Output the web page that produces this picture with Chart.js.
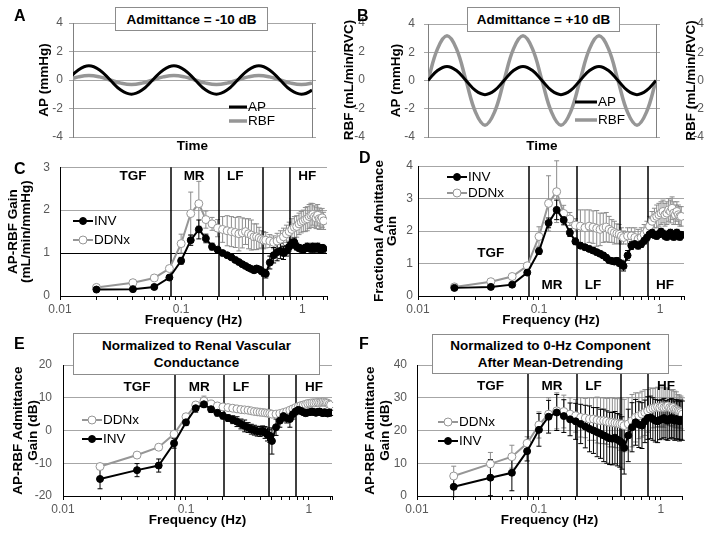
<!DOCTYPE html>
<html>
<head>
<meta charset="utf-8">
<script src="https://cdn.jsdelivr.net/npm/chart.js@4.4.1/dist/chart.umd.min.js"></script>
<style>
body { margin: 0; background: #fff; width: 704px; height: 535px; position: relative; overflow: hidden; font-family: 'Liberation Sans', Arial, sans-serif; }
canvas { position: absolute; }
.lt { position: absolute; font-weight: bold; font-size: 16px; line-height: 1; z-index: 5; }
.tb { position: absolute; box-sizing: border-box; border: 1px solid #8c8c8c; background: #fff; font-weight: bold; font-size: 13.5px; line-height: 17px; text-align: center; z-index: 5; display: flex; align-items: center; justify-content: center; }
</style>
</head>
<body>
<canvas id="chartA"></canvas>
<canvas id="chartB"></canvas>
<canvas id="chartC"></canvas>
<canvas id="chartD"></canvas>
<canvas id="chartE"></canvas>
<canvas id="chartF"></canvas>

<div class="lt" style="left:14px;top:8px">A</div>
<div class="lt" style="left:357px;top:8px">B</div>
<div class="lt" style="left:14px;top:161px">C</div>
<div class="lt" style="left:359px;top:150px">D</div>
<div class="lt" style="left:14px;top:336px">E</div>
<div class="lt" style="left:359px;top:336px">F</div>

<div class="tb" style="left:115px;top:7px;width:153px;height:24px">Admittance = -10 dB</div>
<div class="tb" style="left:467px;top:7px;width:153px;height:25px">Admittance = +10 dB</div>
<div class="tb" style="left:73px;top:333px;width:247px;height:42px">Normalized to Renal Vascular<br>Conductance</div>
<div class="tb" style="left:432px;top:334px;width:237px;height:40px">Normalized to 0-Hz Component<br>After Mean-Detrending</div>

<script>
// panels A/B: one sample every 1/8 of a cycle
const time = [0,1,2,3,4,5,6,7,8,9,10,11,12,13,14,15,16,17,18,19,20,21,22,23,24];
const apWave = [0,0.71,1,0.71,0,-0.71,-1,-0.71, 0,0.71,1,0.71,0,-0.71,-1,-0.71, 0,0.71,1,0.71,0,-0.71,-1,-0.71, 0];
const rbfWaveA = [0,0.22,0.32,0.22,0,-0.22,-0.32,-0.22, 0,0.22,0.32,0.22,0,-0.22,-0.32,-0.22, 0,0.22,0.32,0.22,0,-0.22,-0.32,-0.22, 0];
const rbfWaveB = [0,2.24,3.16,2.24,0,-2.24,-3.16,-2.24, 0,2.24,3.16,2.24,0,-2.24,-3.16,-2.24, 0,2.24,3.16,2.24,0,-2.24,-3.16,-2.24, 0];

// panels C-F
const freq = [0.02,0.04,0.06,0.08,0.10,0.12,0.14,0.16,0.18,0.20,
  0.22,0.24,0.26,0.28,0.30,0.32,0.34,0.36,0.38,0.40,
  0.42,0.44,0.46,0.48,0.50,0.54,0.58,0.62,0.66,0.70,
  0.74,0.78,0.82,0.86,0.90,0.94,0.98,1.02,1.06,1.10,
  1.14,1.18,1.22,1.26,1.30,1.34,1.38,1.42,1.46,1.50];

const bandEdges = [0.082, 0.205, 0.47, 0.79];
const bandNames = ['TGF', 'MR', 'LF', 'HF'];
const bandCenters = [0.04, 0.128, 0.28, 1.1];

const gainInv = [0.15,0.16,0.21,0.43,0.82,1.30,1.55,1.34,1.15,1.08,
  1.00,0.95,0.90,0.84,0.79,0.74,0.70,0.66,0.63,0.60,
  0.64,0.62,0.58,0.54,0.52,0.78,0.95,1.02,1.05,1.00,
  1.05,1.15,1.22,1.25,1.15,1.12,1.10,1.08,1.12,1.15,
  1.12,1.10,1.15,1.10,1.13,1.15,1.10,1.08,1.12,1.10];
const gainInvErr = [0.03,0.03,0.03,0.05,0.08,0.12,0.22,0.10,0.08,0.06,
  0.05,0.05,0.05,0.05,0.05,0.05,0.05,0.05,0.05,0.06,
  0.06,0.06,0.07,0.08,0.10,0.15,0.18,0.20,0.18,0.15,
  0.12,0.10,0.10,0.10,0.08,0.08,0.08,0.08,0.08,0.08,
  0.08,0.08,0.08,0.08,0.08,0.08,0.08,0.08,0.08,0.08];
const gainDdnx = [0.20,0.31,0.42,0.64,1.22,1.92,2.15,1.78,1.68,1.58,
  1.55,1.52,1.50,1.48,1.45,1.47,1.50,1.45,1.42,1.38,
  1.38,1.35,1.32,1.30,1.30,1.28,1.25,1.28,1.32,1.38,
  1.45,1.50,1.55,1.60,1.62,1.68,1.72,1.75,1.78,1.80,
  1.85,1.88,1.90,1.85,1.82,1.88,1.80,1.78,1.82,1.75];
const gainDdnxErr = [0.04,0.04,0.05,0.06,0.22,0.50,0.52,0.20,0.15,0.20,
  0.30,0.35,0.35,0.35,0.40,0.35,0.30,0.35,0.35,0.30,
  0.30,0.25,0.20,0.20,0.18,0.15,0.15,0.18,0.20,0.20,
  0.20,0.22,0.25,0.25,0.25,0.25,0.25,0.25,0.28,0.28,
  0.28,0.28,0.25,0.25,0.25,0.25,0.25,0.22,0.22,0.20];

const fracInv = [0.25,0.28,0.35,0.72,1.38,2.25,2.65,2.34,1.95,1.68,
  1.55,1.50,1.45,1.40,1.35,1.30,1.25,1.18,1.10,1.08,
  1.06,1.08,1.02,0.98,0.92,1.25,1.55,1.60,1.55,1.60,
  1.70,1.80,1.90,1.95,1.88,1.85,1.90,1.98,1.92,1.85,
  1.82,1.90,1.95,1.85,1.82,1.90,1.95,1.85,1.82,1.88];
const fracInvErr = [0.03,0.03,0.04,0.08,0.10,0.15,0.30,0.15,0.12,0.10,
  0.08,0.08,0.08,0.08,0.08,0.08,0.08,0.08,0.08,0.08,
  0.08,0.10,0.10,0.12,0.15,0.15,0.12,0.10,0.10,0.10,
  0.10,0.10,0.10,0.10,0.10,0.10,0.10,0.10,0.10,0.10,
  0.10,0.10,0.10,0.10,0.10,0.10,0.10,0.10,0.10,0.10];
const fracDdnx = [0.28,0.44,0.60,0.93,1.83,2.85,3.21,2.54,2.37,2.18,
  2.15,2.10,2.15,2.12,2.08,2.05,2.10,2.12,2.05,2.00,
  1.95,1.92,1.90,1.85,1.80,1.85,1.85,1.80,1.75,1.80,
  1.90,2.00,2.15,2.30,2.40,2.45,2.50,2.55,2.60,2.50,
  2.55,2.65,2.60,2.70,2.55,2.50,2.60,2.50,2.45,2.45];
const fracDdnxErr = [0.03,0.04,0.05,0.08,0.30,0.85,0.95,0.25,0.20,0.20,
  0.50,0.55,0.50,0.50,0.55,0.50,0.45,0.45,0.40,0.35,
  0.35,0.30,0.30,0.25,0.20,0.25,0.25,0.30,0.30,0.30,
  0.30,0.30,0.30,0.30,0.30,0.35,0.35,0.35,0.35,0.35,
  0.35,0.35,0.35,0.35,0.35,0.30,0.30,0.30,0.30,0.30];

const rvcInv = [-14.8,-12.1,-10.7,-3.9,2.5,6.8,8.0,6.5,5.4,4.5,
  3.8,3.3,2.7,2.0,1.4,0.9,0.4,0.1,-0.2,-0.3,
  -0.1,-0.6,-1.2,-1.6,-3.2,1.0,3.0,4.4,3.8,3.5,
  5.0,5.8,6.3,6.0,5.6,5.3,5.5,5.6,5.8,5.6,
  5.4,5.7,5.8,5.5,5.3,5.6,5.4,5.2,5.5,5.4];
const rvcInvErr = [3.0,2.0,2.0,1.5,1.0,1.2,1.0,1.0,1.0,1.0,
  1.0,1.2,1.5,1.5,1.8,1.5,1.5,1.5,1.5,1.5,
  1.5,1.8,2.0,2.0,4.0,2.5,2.0,1.5,1.5,2.5,
  1.5,1.0,1.0,1.0,0.8,0.8,0.8,0.8,0.8,0.8,
  0.8,0.8,0.8,0.8,0.8,0.8,0.8,0.8,0.8,0.8];
const rvcDdnx = [-11.0,-7.5,-5.1,-1.1,4.2,7.8,9.0,8.1,7.5,7.2,
  7.0,6.8,6.6,6.4,6.3,6.2,6.0,5.8,5.7,5.6,
  5.5,5.4,5.3,5.2,5.0,5.0,5.2,5.5,5.8,6.2,
  6.6,7.0,7.3,7.6,7.8,8.0,8.2,8.3,8.4,8.4,
  8.5,8.6,8.5,8.6,8.7,8.6,8.5,8.3,8.0,7.8];
const rvcDdnxErr = [0.8,0.8,0.8,0.8,0.9,1.0,1.5,1.0,0.9,0.9,
  0.9,0.9,0.9,0.9,0.9,0.8,0.8,0.8,0.8,0.8,
  0.8,0.8,0.8,0.8,0.8,0.8,0.8,0.8,0.8,0.8,
  0.8,0.8,0.8,0.8,0.8,0.8,0.8,0.8,0.8,0.8,
  0.8,0.8,0.8,0.8,0.8,0.8,0.8,0.8,0.8,0.8];

const zeroInv = [2.8,5.6,7.1,13.7,20.2,24.2,25.5,24.4,23.4,22.8,
  22.0,21.2,20.5,20.0,19.5,19.0,18.5,18.0,17.6,17.5,
  17.8,17.2,16.8,16.2,14.7,18.5,21.0,22.5,21.8,21.5,
  22.8,23.8,24.0,23.5,23.0,22.8,23.2,23.5,23.8,23.2,
  23.0,23.5,23.8,23.4,23.0,23.5,23.2,22.8,23.3,23.0];
const zeroInvErr = [3.0,5.5,5.5,3.0,5.0,5.0,5.5,5.0,5.0,5.5,
  6.0,6.5,7.0,7.0,7.5,7.5,8.0,8.0,8.0,8.0,
  8.0,8.0,8.0,8.0,8.0,8.0,7.5,7.0,7.0,7.0,
  6.5,6.5,6.5,6.5,6.5,6.5,6.0,6.0,6.0,6.0,
  6.0,6.0,6.0,6.0,6.0,6.0,6.0,6.0,6.0,6.0];
const zeroDdnx = [6.1,9.8,12.0,16.1,21.7,25.0,26.0,25.8,25.0,24.5,
  24.0,23.8,23.5,23.5,23.2,23.0,23.0,22.8,22.5,22.5,
  22.3,22.2,22.0,22.0,21.5,22.0,23.0,24.0,24.5,25.0,
  25.5,26.0,26.5,26.8,27.0,27.2,27.0,27.3,27.0,27.2,
  27.5,27.0,26.8,27.0,26.5,26.3,26.0,25.8,25.5,25.0];
const zeroDdnxErr = [3.0,3.5,3.5,2.0,4.0,5.0,5.5,5.0,5.0,5.0,
  6.0,6.0,6.5,6.5,7.0,7.0,7.0,7.0,7.5,7.5,
  7.5,7.5,8.0,8.0,8.0,8.0,8.0,7.5,7.0,7.0,
  7.0,6.5,6.5,6.0,6.0,6.0,6.0,6.0,6.0,5.5,
  5.5,5.5,5.5,5.5,5.5,5.5,5.0,5.0,5.0,5.0];

const FONT = "'Liberation Sans', Arial, sans-serif";
const GRID = '#a6a6a6';
const TICK = '#595959';
const GRAY = '#969696';

Chart.defaults.font.family = FONT;
Chart.defaults.animation = false;
Chart.defaults.responsive = false;

// vertical error bars, drawn under the markers
const errorBars = {
  id: 'errorBars',
  beforeDatasetsDraw(chart) {
    const ctx = chart.ctx;
    const x = chart.scales.x, y = chart.scales.y;
    const sets = chart.data.datasets;
    for (let i = sets.length - 1; i >= 0; i--) {
      const ds = sets[i];
      if (!ds.errors) continue;
      ctx.save();
      ctx.strokeStyle = ds.errorColor;
      ctx.lineWidth = 1;
      ds.data.forEach((p, j) => {
        const e = ds.errors[j];
        const px = x.getPixelForValue(p.x);
        const t = y.getPixelForValue(p.y + e);
        const b = y.getPixelForValue(p.y - e);
        ctx.beginPath();
        ctx.moveTo(px, t); ctx.lineTo(px, b);
        ctx.moveTo(px - 2.5, t); ctx.lineTo(px + 2.5, t);
        ctx.moveTo(px - 2.5, b); ctx.lineTo(px + 2.5, b);
        ctx.stroke();
      });
      ctx.restore();
    }
  }
};

// band separators and TGF/MR/LF/HF labels
const bands = {
  id: 'bands',
  beforeDatasetsDraw(chart, args, opts) {
    if (!opts.labelY) return;
    const ctx = chart.ctx, area = chart.chartArea;
    const x = chart.scales.x, y = chart.scales.y;
    ctx.save();
    ctx.strokeStyle = '#000';
    ctx.lineWidth = 1.5;
    bandEdges.forEach(f => {
      const px = Math.round(x.getPixelForValue(f));
      ctx.beginPath();
      ctx.moveTo(px, area.top);
      ctx.lineTo(px, area.bottom);
      ctx.stroke();
    });
    ctx.fillStyle = '#000';
    ctx.font = 'bold 13.5px ' + FONT;
    ctx.textAlign = 'center';
    ctx.textBaseline = 'middle';
    bandNames.forEach((n, i) => {
      ctx.fillText(n, x.getPixelForValue(bandCenters[i]), y.getPixelForValue(opts.labelY[i]));
    });
    ctx.restore();
  }
};

// small legend placed inside the plot
const sampleLegend = {
  id: 'sampleLegend',
  afterDraw(chart, args, opts) {
    if (!opts.items) return;
    const ctx = chart.ctx;
    const ox = opts.origin[0], oy = opts.origin[1];
    opts.items.forEach(it => {
      const ds = chart.data.datasets[it.ds];
      const x0 = it.x0 - ox, x1 = it.x1 - ox, y = it.y - oy;
      ctx.save();
      ctx.strokeStyle = ds.borderColor;
      ctx.lineWidth = ds.borderWidth;
      ctx.beginPath();
      ctx.moveTo(x0, y);
      ctx.lineTo(x1, y);
      ctx.stroke();
      if (ds.pointRadius > 0) {
        ctx.beginPath();
        ctx.arc((x0 + x1) / 2, y, ds.pointRadius, 0, Math.PI * 2);
        ctx.fillStyle = ds.pointBackgroundColor;
        ctx.fill();
        ctx.lineWidth = 1;
        ctx.strokeStyle = ds.pointBorderColor;
        ctx.stroke();
      }
      ctx.fillStyle = '#000';
      ctx.font = '13.5px ' + FONT;
      ctx.textBaseline = 'middle';
      ctx.fillText(ds.label, x1 + 1, y);
      ctx.restore();
    });
  }
};

// right-hand axis title reading bottom-to-top, as in the figure
const rightTitle = {
  id: 'rightTitle',
  afterDraw(chart, args, opts) {
    if (!opts.text) return;
    const ctx = chart.ctx, area = chart.chartArea;
    ctx.save();
    ctx.translate(chart.width - opts.offset, (area.top + area.bottom) / 2);
    ctx.rotate(-Math.PI / 2);
    ctx.fillStyle = '#000';
    ctx.font = 'bold 13.5px ' + FONT;
    ctx.textAlign = 'center';
    ctx.textBaseline = 'middle';
    ctx.fillText(opts.text, 0, 0);
    ctx.restore();
  }
};

function setupCanvas(id, box) {
  const c = document.getElementById(id);
  c.style.left = box[0] + 'px';
  c.style.top = box[1] + 'px';
  c.width = box[2] - box[0];
  c.height = box[3] - box[1];
  return c.getContext('2d');
}

const isDecade = v => Math.abs(Math.log10(v) - Math.round(Math.log10(v))) < 1e-6;

function wavePanel(id, box, area, cfg) {
  const ctx = setupCanvas(id, box);
  return new Chart(ctx, {
    type: 'line',
    data: {
      datasets: [
        { label: 'AP', data: time.map((t, i) => ({ x: t, y: apWave[i] })), yAxisID: 'y',
          borderColor: '#000', borderWidth: 3, pointRadius: 0, tension: 0.4 },
        { label: 'RBF', data: time.map((t, i) => ({ x: t, y: cfg.rbf[i] })), yAxisID: 'y1',
          borderColor: GRAY, borderWidth: 3.5, pointRadius: 0, tension: 0.4 }
      ]
    },
    options: {
      devicePixelRatio: 1,
      layout: { padding: { top: area[1] - box[1], right: 0, left: 0, bottom: 0 } },
      scales: {
        x: {
          type: 'linear', min: cfg.tMin, max: cfg.tMax,
          afterFit: s => { s.height = box[3] - area[3]; },
          ticks: { display: false },
          grid: { display: false },
          border: { display: false },
          title: { display: true, text: 'Time', color: '#000', font: { size: 13.5, weight: 'bold' }, padding: { top: 0, bottom: cfg.xTitlePad } }
        },
        y: {
          position: 'left', min: -4, max: 4,
          afterFit: s => { s.width = area[0] - box[0]; },
          ticks: { stepSize: 2, color: TICK, font: { size: 12 }, padding: cfg.lPad },
          grid: { color: GRID, tickLength: 4 },
          border: { color: '#808080' },
          title: { display: true, text: 'AP (mmHg)', color: '#000', font: { size: 13.5, weight: 'bold' }, padding: { top: cfg.lTitlePad, bottom: 0 } }
        },
        y1: {
          position: 'right', min: -4, max: 4,
          afterFit: s => { s.width = box[2] - area[2]; },
          ticks: { stepSize: 2, color: TICK, font: { size: 12 }, padding: cfg.rPad, crossAlign: 'far' },
          grid: { drawOnChartArea: false, color: GRID, tickLength: 4 },
          border: { color: '#808080' },
          title: { display: false }
        }
      },
      plugins: {
        legend: { display: false },
        tooltip: { enabled: false },
        sampleLegend: { origin: [box[0], box[1]], items: cfg.legend },
        rightTitle: { text: 'RBF (mL/min/RVC)', offset: cfg.rTitleOffset }
      }
    },
    plugins: [sampleLegend, rightTitle]
  });
}

function freqPanel(id, box, area, cfg) {
  const ctx = setupCanvas(id, box);
  const pts = vals => freq.map((f, i) => ({ x: f, y: vals[i] }));
  return new Chart(ctx, {
    type: 'line',
    data: {
      datasets: [
        { label: 'INV', data: pts(cfg.inv), errors: cfg.invErr, errorColor: '#000',
          borderColor: '#000', borderWidth: 2, pointRadius: 3.5,
          pointBackgroundColor: '#000', pointBorderColor: '#000', pointBorderWidth: 1 },
        { label: 'DDNx', data: pts(cfg.ddnx), errors: cfg.ddnxErr, errorColor: '#8c8c8c',
          borderColor: GRAY, borderWidth: 2, pointRadius: 4,
          pointBackgroundColor: '#fff', pointBorderColor: GRAY, pointBorderWidth: 1 }
      ]
    },
    options: {
      devicePixelRatio: 1,
      layout: { padding: { top: area[1] - box[1], right: box[2] - area[2], left: 0, bottom: 0 } },
      scales: {
        x: {
          type: 'logarithmic', min: 0.01, max: cfg.xMax,
          afterFit: s => { s.height = box[3] - area[3]; },
          border: { color: '#000' },
          grid: { drawOnChartArea: false, drawTicks: true, tickLength: 4, color: '#000' },
          ticks: { autoSkip: false, maxRotation: 0, color: TICK, font: { size: 12 }, padding: 2,
                   callback: v => isDecade(v) ? String(v) : '' },
          title: { display: true, text: 'Frequency (Hz)', color: '#000', font: { size: 13.5, weight: 'bold' }, padding: { top: 0, bottom: cfg.xTitlePad } }
        },
        y: {
          min: cfg.yMin, max: cfg.yMax,
          afterFit: s => { s.width = area[0] - box[0]; },
          ticks: { stepSize: cfg.yStep, color: TICK, font: { size: 12 }, padding: cfg.yPad },
          border: { color: '#000' },
          grid: { drawTicks: false, color: cfg.gridColor || GRID },
          title: { display: true, text: cfg.yTitle, color: '#000', font: { size: 13.5, weight: 'bold', lineHeight: cfg.yLH }, padding: { top: cfg.yTitlePad, bottom: 0 } }
        }
      },
      plugins: {
        legend: { display: false },
        tooltip: { enabled: false },
        bands: { labelY: cfg.labelY },
        sampleLegend: { origin: [box[0], box[1]], items: cfg.legend }
      }
    },
    plugins: [errorBars, bands, sampleLegend]
  });
}

wavePanel('chartA', [0, 0, 365, 160], [73, 23, 312, 137], {
  rbf: rbfWaveA, tMin: 0.5, tMax: 23.0, xTitlePad: 5.6,
  lPad: 6, rPad: 0, lTitlePad: 35.9, rTitleOffset: 16,
  legend: [{ ds: 0, x0: 229, x1: 247, y: 107 }, { ds: 1, x0: 229, x1: 247, y: 121 }]
});

wavePanel('chartB', [352, 0, 704, 160], [428, 24, 656, 137], {
  rbf: rbfWaveB, tMin: 0, tMax: 24, xTitlePad: 5.6,
  lPad: 9, rPad: 8, lTitlePad: 35.9, rTitleOffset: 13,
  legend: [{ ds: 0, x0: 575, x1: 597, y: 102 }, { ds: 1, x0: 575, x1: 597, y: 120 }]
});

freqPanel('chartC', [0, 150, 345, 330], [60, 163, 327, 296], {
  inv: gainInv, invErr: gainInvErr, ddnx: gainDdnx, ddnxErr: gainDdnxErr,
  xMax: 1.6, yMin: 0, yMax: 3, yStep: 1, yPad: 10,
  yTitle: ['AP-RBF Gain', '(mL/min/mmHg)'], yLH: 1.0, yTitlePad: 6.2, xTitlePad: 1.9,
  gridColor: c => c.tick && c.tick.value === 1 ? '#000' : GRID,
  labelY: [2.8, 2.8, 2.8, 2.8],
  legend: [{ ds: 0, x0: 73, x1: 93, y: 221 }, { ds: 1, x0: 73, x1: 93, y: 240 }]
});

freqPanel('chartD', [352, 150, 700, 330], [418, 166, 684, 296], {
  inv: fracInv, invErr: fracInvErr, ddnx: fracDdnx, ddnxErr: fracDdnxErr,
  xMax: 1.58, yMin: 0, yMax: 4, yStep: 1, yPad: 5,
  yTitle: ['Fractional Admittance', 'Gain'], yLH: 1.0, yTitlePad: 20.2, xTitlePad: 1.4,
  labelY: [1.32, 0.34, 0.34, 0.34],
  legend: [{ ds: 0, x0: 447, x1: 467, y: 177 }, { ds: 1, x0: 447, x1: 467, y: 193 }]
});

freqPanel('chartE', [0, 340, 345, 535], [63, 365, 332, 496], {
  inv: rvcInv, invErr: rvcInvErr, ddnx: rvcDdnx, ddnxErr: rvcDdnxErr,
  xMax: 1.54, yMin: -20, yMax: 20, yStep: 10, yPad: 11,
  yTitle: ['AP-RBF Admittance', 'Gain (dB)'], yLH: 1.1, yTitlePad: 10.6, xTitlePad: 6.4,
  labelY: [13.3, 13.3, 13.3, 13.3],
  legend: [{ ds: 1, x0: 82, x1: 102, y: 420 }, { ds: 0, x0: 82, x1: 102, y: 439 }]
});

freqPanel('chartF', [352, 340, 700, 535], [417, 365, 682, 496], {
  inv: zeroInv, invErr: zeroInvErr, ddnx: zeroDdnx, ddnxErr: zeroDdnxErr,
  xMax: 1.49, yMin: 0, yMax: 40, yStep: 10, yPad: 10,
  yTitle: ['AP-RBF Admittance', 'Gain (dB)'], yLH: 1.1, yTitlePad: 10.6, xTitlePad: 6.4,
  labelY: [33.6, 33.6, 33.6, 33.6],
  legend: [{ ds: 1, x0: 438, x1: 458, y: 422 }, { ds: 0, x0: 438, x1: 458, y: 441 }]
});
</script>
</body>
</html>
